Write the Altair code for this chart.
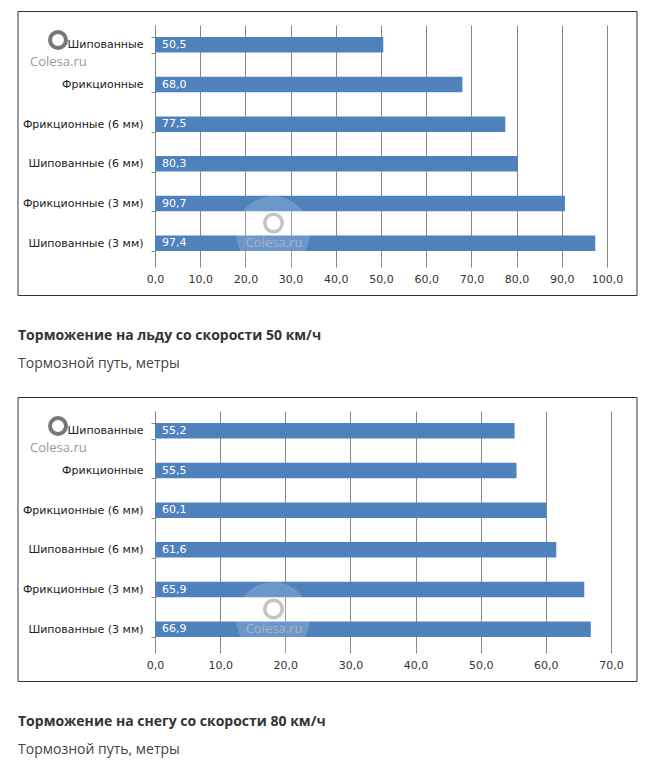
import altair as alt
import pandas as pd

categories = ["Шипованные", "Фрикционные", "Фрикционные (6 мм)",
              "Шипованные (6 мм)", "Фрикционные (3 мм)", "Шипованные (3 мм)"]
ice_values = [50.5, 68.0, 77.5, 80.3, 90.7, 97.4]
snow_values = [55.2, 55.5, 60.1, 61.6, 65.9, 66.9]
ice_ticks = [0, 10, 20, 30, 40, 50, 60, 70, 80, 90, 100]
snow_ticks = [0, 10, 20, 30, 40, 50, 60, 70]
titles = ["Торможение на льду со скорости 50 км/ч",
          "Торможение на снегу со скорости 80 км/ч"]
subtitle = "Тормозной путь, метры"
watermark = "Colesa.ru"

FONT = "DejaVu Sans"
BAR = "#4F81BD"
GRID = "#878787"


def one(text):
    return alt.Chart(pd.DataFrame({"t": [text]}))


def panel(values, ticks, title, plot_w):
    df = pd.DataFrame({
        "cat": categories,
        "val": values,
        "lab": [f"{v:.1f}".replace(".", ",") for v in values],
    })
    base = alt.Chart(df)
    x = alt.X("val:Q",
              scale=alt.Scale(domain=[ticks[0], ticks[-1]], nice=False),
              axis=alt.Axis(values=ticks, title=None,
                            labelExpr="replace(format(datum.value, '.1f'), '.', ',')",
                            grid=True, gridColor=GRID, gridOpacity=1, domain=False,
                            tickColor=GRID, tickSize=4, labelPadding=6, labelFlush=False,
                            labelOverlap=False,
                            labelFont=FONT, labelFontSize=11, labelColor="#333333"))
    y = alt.Y("cat:N", sort=categories,
              scale=alt.Scale(paddingInner=0.61, paddingOuter=0.305),
              axis=alt.Axis(title=None, tickBand="extent", domainColor=GRID,
                            tickColor=GRID, tickSize=4, labelPadding=8,
                            labelFont=FONT, labelFontSize=11, labelColor="#222222",
                            grid=False))
    frame = one("f").mark_rect(fill="white", fillOpacity=0, stroke="#333333",
                               strokeWidth=1).encode(
        x=alt.value(-137), x2=alt.value(482), y=alt.value(-13.5), y2=alt.value(270.5))
    bars = base.mark_bar(color=BAR).encode(x=x, y=y)
    labels = base.mark_text(align="left", baseline="middle", color="white",
                            font=FONT, fontSize=11, dx=7).encode(
        x=alt.datum(0), y=alt.Y("cat:N", sort=categories), text="lab:N")
    logo_ring = one(watermark).mark_point(shape="circle", filled=False, stroke="#777777",
                                          strokeWidth=4, size=256, opacity=1).encode(
        x=alt.value(-97), y=alt.value(15))
    logo_text = one(watermark).mark_text(align="left", baseline="middle", font="Open Sans",
                                         fontSize=13, color="#999999").encode(
        x=alt.value(-125), y=alt.value(37), text="t:N")
    wm_bg = one(watermark).mark_point(shape="circle", filled=True, color="white",
                                      opacity=0.18, size=5476).encode(
        x=alt.value(118), y=alt.value(208))
    wm_ring = one(watermark).mark_point(shape="circle", filled=False, stroke="#c4c4c4",
                                        strokeWidth=3.5, size=306, opacity=1).encode(
        x=alt.value(118.5), y=alt.value(198))
    wm_text = one(watermark).mark_text(align="center", baseline="middle", font="Open Sans",
                                       fontSize=13, color="#c8c8c8", opacity=0.6).encode(
        x=alt.value(119), y=alt.value(218), text="t:N")
    t1 = one(title).mark_text(align="left", baseline="middle", font="Open Sans",
                              fontSize=14, fontWeight="bold", color="#333333").encode(
        x=alt.value(-137), y=alt.value(311), text="t:N")
    t2 = one(subtitle).mark_text(align="left", baseline="middle", font="Open Sans",
                                 fontSize=14, color="#444444").encode(
        x=alt.value(-137), y=alt.value(339), text="t:N")
    return alt.layer(frame, bars, labels, logo_ring, logo_text, wm_bg, wm_ring,
                     wm_text, t1, t2).properties(width=plot_w, height=238)


c1 = panel(ice_values, ice_ticks, titles[0], 452)
c2 = panel(snow_values, snow_ticks, titles[1], 456)

chart = alt.vconcat(c1, c2, spacing=26).properties(
    padding={"left": 9, "top": 3, "right": 5, "bottom": 5}
).configure_view(strokeWidth=0)

chart.save("out.html", embed_options={"renderer": "svg", "actions": False})
